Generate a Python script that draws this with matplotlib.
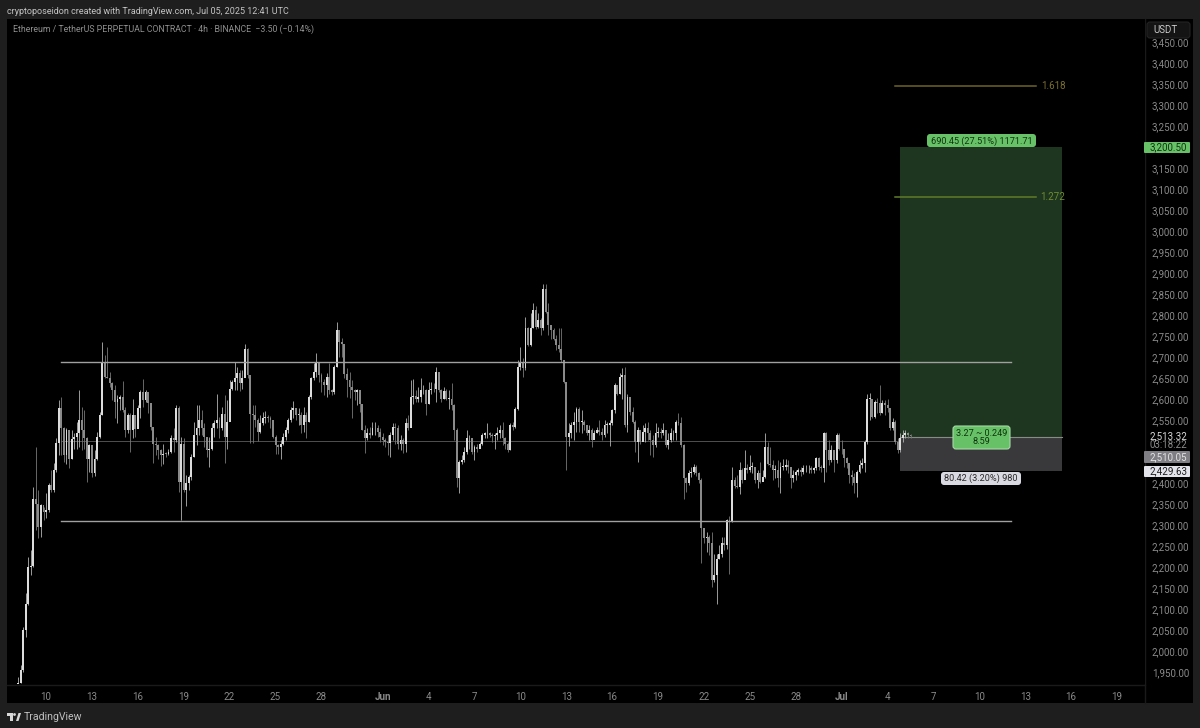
import numpy as np
import matplotlib
matplotlib.use('Agg')
import matplotlib.pyplot as plt
from matplotlib.patches import FancyBboxPatch, Rectangle, Polygon, Circle

plt.rcParams['font.family'] = ['Roboto', 'DejaVu Sans']

# ETHUSDT.P 4h closes
closes = [
    1923,1954,2050,2113,2200,2202,2361,2351,2296,2347,
    2332,2336,2395,2383,2431,2496,2578,2532,2466,2526,
    2458,2504,2510,2518,2550,2526,2506,2458,2490,2423,
    2458,2510,2562,2685,2653,2649,2637,2621,2593,2601,
    2605,2574,2526,2562,2526,2562,2528,2578,2617,2597,
    2617,2590,2534,2494,2490,2478,2466,2470,2469,2474,
    2506,2502,2578,2403,2494,2383,2399,2415,2462,2514,
    2530,2550,2530,2510,2478,2482,2530,2542,2550,2532,
    2564,2510,2546,2625,2641,2649,2661,2637,2649,2718,
    2657,2564,2562,2550,2522,2542,2554,2558,2554,2550,
    2510,2490,2486,2493,2510,2526,2550,2574,2578,2562,
    2562,2538,2562,2546,2605,2649,2665,2685,2657,2641,
    2633,2653,2621,2617,2677,2765,2735,2730,2660,2645,
    2628,2621,2617,2621,2589,2527,2506,2518,2514,2530,
    2532,2522,2510,2502,2498,2495,2514,2534,2532,2494,
    2502,2494,2542,2530,2605,2607,2601,2605,2621,2621,
    2589,2621,2625,2623,2665,2621,2601,2620,2601,2601,
    2585,2526,2411,2450,2454,2474,2506,2506,2474,2486,
    2482,2494,2514,2518,2520,2514,2512,2514,2518,2527,
    2506,2494,2478,2538,2534,2577,2677,2689,2673,2770,
    2728,2770,2812,2772,2788,2768,2861,2808,2776,2764,
    2744,2728,2720,2693,2641,2510,2518,2538,2546,2577,
    2546,2546,2538,2518,2526,2502,2518,2526,2522,2514,
    2538,2538,2542,2573,2633,2613,2653,2657,2538,2605,
    2570,2546,2498,2526,2498,2522,2530,2518,2502,2490,
    2518,2522,2518,2526,2490,2502,2518,2518,2546,2543,
    2490,2411,2399,2423,2427,2439,2423,2407,2292,2268,
    2272,2256,2169,2181,2220,2232,2256,2252,2312,2307,
    2407,2393,2391,2431,2407,2435,2431,2439,2439,2407,
    2423,2403,2415,2486,2446,2442,2431,2431,2411,2439,
    2439,2442,2439,2411,2419,2427,2431,2427,2435,2435,
    2435,2431,2435,2459,2439,2435,2518,2478,2455,2478,
    2455,2514,2482,2480,2459,2447,2419,2415,2399,2427,
    2443,2447,2498,2601,2601,2558,2594,2590,2566,2590,
    2586,2578,2530,2546,2498,2478,2506,2514,2518,2514,2513,
]
highs = [
    1938,1966,2058,2137,2224,2240,2391,2486,2383,2351,
    2343,2375,2399,2431,2447,2506,2597,2605,2534,2530,
    2526,2526,2518,2546,2621,2582,2574,2510,2494,2490,
    2478,2522,2570,2736,2705,2723,2665,2641,2633,2609,
    2609,2643,2582,2566,2566,2601,2562,2586,2621,2647,
    2621,2597,2590,2534,2510,2494,2482,2494,2474,2482,
    2514,2530,2586,2583,2510,2506,2419,2419,2470,2546,
    2585,2585,2574,2542,2510,2510,2542,2550,2613,2558,
    2582,2609,2597,2645,2645,2689,2677,2669,2669,2731,
    2721,2653,2585,2585,2554,2562,2570,2572,2562,2559,
    2550,2514,2494,2502,2518,2534,2554,2582,2595,2578,
    2578,2570,2582,2570,2609,2653,2685,2709,2689,2661,
    2647,2661,2685,2625,2681,2783,2760,2745,2715,2673,
    2665,2645,2625,2625,2599,2585,2538,2530,2534,2546,
    2546,2538,2530,2518,2506,2514,2522,2542,2542,2538,
    2514,2506,2554,2562,2645,2647,2621,2629,2651,2633,
    2625,2641,2641,2637,2677,2665,2625,2629,2625,2621,
    2637,2589,2530,2454,2466,2486,2527,2514,2506,2490,
    2494,2498,2519,2522,2542,2522,2518,2518,2534,2538,
    2546,2510,2498,2542,2546,2581,2693,2724,2697,2796,
    2772,2804,2829,2821,2804,2792,2875,2874,2828,2776,
    2768,2752,2768,2768,2689,2641,2542,2546,2570,2581,
    2580,2573,2550,2538,2538,2530,2526,2534,2550,2530,
    2550,2546,2550,2577,2637,2633,2661,2673,2677,2613,
    2605,2581,2550,2534,2526,2538,2542,2546,2526,2514,
    2542,2534,2530,2542,2518,2518,2530,2526,2550,2566,
    2558,2494,2415,2431,2439,2445,2442,2427,2411,2292,
    2284,2276,2284,2232,2232,2252,2272,2272,2315,2321,
    2437,2415,2419,2450,2435,2478,2446,2466,2450,2439,
    2431,2450,2431,2518,2498,2486,2454,2442,2454,2450,
    2458,2458,2454,2439,2431,2431,2435,2439,2443,2443,
    2443,2440,2439,2461,2461,2443,2522,2522,2502,2490,
    2478,2518,2518,2502,2482,2463,2447,2431,2423,2431,
    2455,2459,2502,2613,2615,2598,2598,2602,2633,2598,
    2598,2601,2578,2554,2550,2506,2518,2526,2526,2522,2517,
]
lows = [
    1918,1923,1950,2034,2109,2180,2199,2288,2268,2272,
    2312,2316,2332,2379,2379,2427,2466,2466,2451,2446,
    2435,2458,2482,2482,2486,2478,2482,2403,2427,2415,
    2416,2455,2506,2562,2649,2649,2629,2597,2554,2543,
    2574,2570,2510,2518,2474,2508,2510,2542,2554,2582,
    2593,2566,2526,2448,2466,2458,2440,2446,2462,2466,
    2472,2474,2498,2379,2312,2379,2345,2383,2407,2462,
    2490,2514,2514,2486,2462,2437,2478,2510,2530,2506,
    2526,2448,2482,2550,2621,2621,2621,2619,2625,2653,
    2649,2496,2496,2534,2500,2518,2538,2542,2546,2532,
    2506,2470,2470,2456,2490,2502,2518,2546,2554,2550,
    2538,2518,2522,2506,2546,2601,2645,2653,2641,2617,
    2609,2605,2613,2609,2613,2677,2700,2700,2650,2605,
    2602,2554,2597,2585,2570,2526,2472,2502,2506,2514,
    2514,2510,2498,2490,2486,2466,2462,2502,2494,2482,
    2478,2472,2474,2526,2534,2589,2593,2593,2593,2613,
    2561,2589,2613,2617,2593,2617,2593,2601,2597,2577,
    2574,2502,2391,2377,2446,2450,2470,2482,2470,2454,
    2474,2486,2490,2506,2506,2510,2498,2482,2502,2506,
    2490,2482,2474,2478,2526,2530,2573,2669,2653,2670,
    2726,2726,2768,2766,2768,2752,2764,2804,2752,2744,
    2740,2716,2712,2689,2637,2432,2489,2506,2502,2522,
    2522,2518,2526,2514,2502,2485,2506,2518,2514,2502,
    2510,2518,2488,2538,2566,2609,2613,2601,2534,2522,
    2562,2542,2474,2450,2494,2502,2498,2502,2466,2462,
    2486,2510,2506,2514,2486,2482,2498,2502,2502,2538,
    2486,2361,2379,2395,2415,2421,2416,2399,2210,2256,
    2236,2228,2153,2165,2113,2220,2224,2240,2244,2184,
    2308,2387,2387,2373,2399,2411,2423,2427,2423,2399,
    2387,2399,2411,2411,2442,2438,2407,2411,2391,2375,
    2431,2431,2423,2387,2403,2407,2419,2417,2421,2427,
    2424,2423,2423,2431,2431,2427,2403,2427,2443,2451,
    2427,2447,2478,2470,2439,2435,2399,2395,2375,2366,
    2423,2435,2427,2494,2550,2554,2554,2566,2562,2566,
    2562,2570,2526,2526,2494,2472,2474,2498,2506,2506,2506,
]
first_open = 1918
first_day = 7.17  # days after May 1

tick_days = [9, 12, 15, 18, 21, 24, 27, 31, 34, 37, 40, 43, 46, 49, 52, 55, 58, 61, 64, 67, 70, 73, 76, 79]
tick_names = ['10', '13', '16', '19', '22', '25', '28', 'Jun', '4', '7', '10', '13', '16', '19', '22', '25',
              '28', 'Jul', '4', '7', '10', '13', '16', '19']
# 2,450 / 2,500 / 3,200 sit behind the price tags
price_ticks = [p for p in range(1950, 3500, 50) if p not in (2450, 2500, 3200)]

resistance = 2688
support = 2310
midline = 2500
entry = 2510.05
target = 3200.50
stop = 2429.63
fib_1618 = 3346
fib_1272 = 3081

fig = plt.figure(figsize=(12, 7.28), dpi=100, facecolor='#1e1e1e')

ax = fig.add_axes([7 / 1200, 1 - 684 / 728, 1138 / 1200, 665 / 728], facecolor='black')
ax.set_xlim(6.45, 80.83)
ax.set_ylim(1921.4, 3504.8)
for s in ax.spines.values():
    s.set_visible(False)

c = np.array(closes, dtype=float)
o = np.r_[first_open, c[:-1]]
h = np.array(highs, dtype=float)
l = np.array(lows, dtype=float)
days = first_day + np.arange(len(c)) / 6
up = c >= o
body_colors = np.where(up, '#dcdcdc', '#8a8a8a')
wick_colors = np.where(up, '#b4b4b4', '#787878')

ax.vlines(days, l, h, colors=wick_colors, linewidth=0.6, zorder=3)
ax.bar(days, np.maximum(np.abs(c - o), 1.5), bottom=np.minimum(o, c), width=0.125, color=body_colors,
       linewidth=0, zorder=4)

# position tool
ax.add_patch(Rectangle((64.82, entry), 10.58, target - entry, fc='#1e361f', ec='none', zorder=1))
ax.add_patch(Rectangle((64.82, stop), 10.58, entry - stop, fc='#39393b', ec='none', zorder=1))
ax.plot([64.82, 75.4], [entry, entry], color='#8a8a8a', lw=0.8, zorder=2)

# range lines
ax.plot([9.98, 72.07], [resistance, resistance], color='#a0a0a0', lw=1.0, zorder=5)
ax.plot([9.98, 72.07], [support, support], color='#a0a0a0', lw=1.0, zorder=5)
ax.plot([9.98, 64.82], [midline, midline], color='#505050', lw=0.7, zorder=2)

# fib levels
ax.plot([64.49, 73.7], [fib_1618, fib_1618], color='#6e6428', lw=1.1, zorder=5)
ax.plot([64.49, 73.7], [fib_1272, fib_1272], color='#617c2a', lw=1.1, zorder=5)

ax.xaxis.set_ticks(tick_days, tick_names)
ax.yaxis.tick_right()
ax.set_yticks(price_ticks, [f'{p:,.2f}' for p in price_ticks])
ax.tick_params(axis='x', length=0, colors='#8a8a8a', labelsize=7, pad=6)
ax.tick_params(axis='y', length=0, colors='#8a8a8a', labelsize=7, pad=5)
ax.get_xticklabels()[7].set_fontweight('bold')
ax.get_xticklabels()[17].set_fontweight('bold')

# pixel overlay for the chrome, tags and labels
ov = fig.add_axes([0, 0, 1, 1], facecolor='none', zorder=10)
ov.set_xlim(0, 1200)
ov.set_ylim(728, 0)
ov.axis('off')

under = fig.add_axes([0, 0, 1, 1], zorder=-1, facecolor='none')
under.set_xlim(0, 1200)
under.set_ylim(728, 0)
under.axis('off')
under.add_patch(Rectangle((7, 19), 1186, 684, fc='black', ec='none'))
under.plot([7, 1145], [684.5, 684.5], color='#1a1a1a', lw=1)
under.plot([1145, 1145], [19, 703], color='#1a1a1a', lw=1)


def tag(x0, y0, x1, y1, fc, ec='none', r=2):
    ov.add_patch(FancyBboxPatch((x0 + r, y0 + r), x1 - x0 - 2 * r, y1 - y0 - 2 * r,
                                boxstyle=f'round,pad={r},rounding_size={r}', fc=fc, ec=ec, lw=0.8))


def label(x, y, s, color, size=7, ha='center', **kw):
    ov.text(x, y, s, color=color, fontsize=size, ha=ha, va='center', **kw)


ov.text(7, 11, 'cryptoposeidon created with TradingView.com, Jul 05, 2025 12:41 UTC',
        color='#c4c4c4', fontsize=6.5, va='center')
ov.text(13, 29, 'Ethereum / TetherUS PERPETUAL CONTRACT · 4h · BINANCE  −3.50 (−0.14%)',
        color='#8f8f8f', fontsize=6.3, va='center')

# USDT box covers the top of the price scale
tag(1147, 22, 1190, 38, '#141414', '#232323', r=3)
label(1153, 30, 'USDT', '#c8c8c8', ha='left')

tag(1144, 142, 1190, 153, '#67c267', r=1)
label(1168, 147.5, '3,200.50', '#10340f')
label(1168, 436, '2,513.32', '#d8d8d8')
label(1168, 445.5, '03:18:22', '#8a8a8a')
tag(1144, 451, 1190, 463, '#7e7e84', r=1)
label(1168, 457, '2,510.05', '#e4e4e4')
tag(1144, 466, 1190, 477, '#e2e2ea', r=1)
label(1168, 471.5, '2,429.63', '#1c1c1c')

label(1053, 86, '1.618', '#7c7030', ha='center')
label(1053, 197, '1.272', '#6f8c30', ha='center')

tag(927, 134, 1036, 147, '#67c267', r=3)
label(981.5, 141, '690.45 (27.51%) 1171.71', '#10340f', size=6.6)
tag(953, 426, 1010, 449, '#67c267', '#a8d8a8', r=3)
label(981.5, 433, '3.27 ~ 0.249', '#10340f', size=6.6)
label(981.5, 442, '8.59', '#10340f', size=6.6)
tag(941, 472, 1021, 485, '#d9d9e1', r=3)
label(981, 478.5, '80.42 (3.20%) 980', '#2a2a2a', size=6.6)

# TradingView footer
ov.add_patch(Polygon([(7, 713), (13, 713), (13, 721), (10, 721), (10, 716), (7, 716)], fc='#d8d8d8', ec='none'))
ov.add_patch(Circle((14.5, 714.5), 1.4, fc='#d8d8d8', ec='none'))
ov.add_patch(Polygon([(16, 721), (18.5, 713), (21, 713), (18.5, 721)], fc='#d8d8d8', ec='none'))
ov.text(24, 716.5, 'TradingView', color='#c0c0c0', fontsize=7.6, va='center')

fig.savefig('out.png', dpi=100, facecolor=fig.get_facecolor())
